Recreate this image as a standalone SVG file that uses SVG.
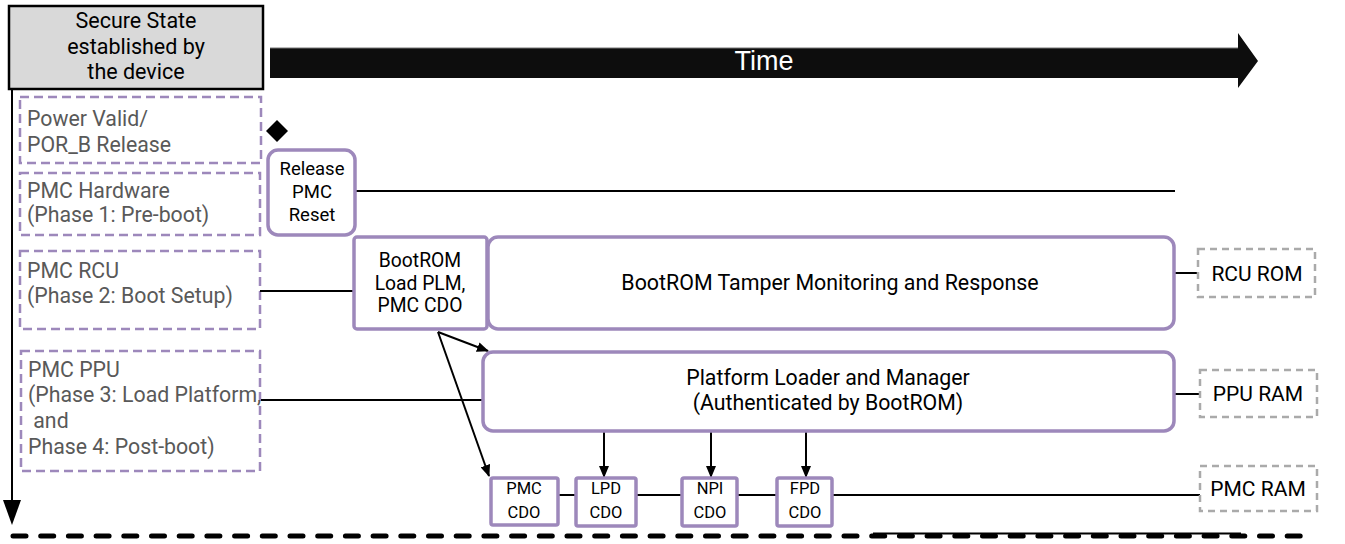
<svg xmlns="http://www.w3.org/2000/svg" width="1345" height="544" viewBox="0 0 1345 544">
<style>
  .lane { fill: #ffffff; stroke: #9d88bb; stroke-width: 2.5; stroke-dasharray: 9 5; }
  .lanet { font-family: Roboto, "Liberation Sans", sans-serif; font-size: 21.3px; fill: #595959; }
  .blk { fill: #ffffff; stroke: #9d88bb; stroke-width: 3.5; }
  .t { font-family: Roboto, "Liberation Sans", sans-serif; fill: #000000; text-anchor: middle; }
  .mem { fill: #ffffff; stroke: #aaaaaa; stroke-width: 2.5; stroke-dasharray: 7 5; }
  .ln { stroke: #000000; stroke-width: 2; fill: none; }
  .ar { stroke: #000000; stroke-width: 2; fill: none; marker-end: url(#ah); }
</style>
<defs>
  <marker id="ah" viewBox="0 0 12 10" refX="11" refY="5" markerWidth="12" markerHeight="10" orient="auto" markerUnits="userSpaceOnUse">
    <path d="M0,0 L12,5 L0,10 z" fill="#000000"/>
  </marker>
</defs>
<rect width="1345" height="544" fill="#ffffff"/>

<g id="secure-state">
  <rect x="9" y="6" width="254" height="83" fill="#d9d9d9" stroke="#000000" stroke-width="2.5"/>
  <text class="t" font-size="21.5" x="136" y="28">Secure State</text>
  <text class="t" font-size="21.5" x="136" y="54">established by</text>
  <text class="t" font-size="21.5" x="136" y="79">the device</text>
</g>

<g id="time-arrow">
  <path d="M270,48 L1238,48 L1238,33 L1258,61 L1238,88 L1238,78 L270,78 z" fill="#0d0d0d"/>
  <line x1="270" y1="48" x2="1238" y2="48" stroke="#777777" stroke-width="1"/>
  <text x="764" y="70" font-family="'Liberation Sans', Arial, sans-serif" font-size="27" fill="#ffffff" text-anchor="middle">Time</text>
</g>

<g id="lane-power">
  <rect class="lane" x="20" y="97" width="241" height="66"/>
  <text class="lanet" x="27" y="126">Power Valid/</text>
  <text class="lanet" x="27" y="152">POR_B Release</text>
</g>
<g id="lane-pmc-hw">
  <rect class="lane" x="20" y="173" width="240" height="62"/>
  <text class="lanet" x="27" y="198">PMC Hardware</text>
  <text class="lanet" x="27" y="222">(Phase 1: Pre-boot)</text>
</g>
<g id="lane-pmc-rcu">
  <rect class="lane" x="20" y="251" width="240" height="78"/>
  <text class="lanet" x="27" y="278">PMC RCU</text>
  <text class="lanet" x="27" y="303">(Phase 2: Boot Setup)</text>
</g>
<g id="lane-pmc-ppu">
  <rect class="lane" x="21" y="351" width="239" height="120"/>
  <text class="lanet" x="28" y="377">PMC PPU</text>
  <text class="lanet" x="28" y="402">(Phase 3: Load Platform,</text>
  <text class="lanet" x="28" y="428" xml:space="preserve"> and</text>
  <text class="lanet" x="28" y="454">Phase 4: Post-boot)</text>
</g>

<g id="por-diamond">
  <path d="M277,120 L288,131 L277,142 L266,131 z" fill="#000000"/>
</g>

<g id="connectors">
  <line class="ln" x1="12" y1="89" x2="12" y2="505"/>
  <path d="M3,500 L21,500 L12,525 z" fill="#000000"/>
  <line x1="13" y1="536" x2="1310" y2="536" stroke="#000000" stroke-width="5" stroke-dasharray="13 14.7" stroke-linecap="round"/>
  <line x1="873" y1="533.5" x2="1241" y2="533.5" stroke="#000000" stroke-width="2"/>
  <line class="ln" x1="356" y1="191" x2="1175" y2="191"/>
  <line class="ln" x1="260" y1="291" x2="354" y2="291"/>
  <line class="ln" x1="261" y1="400" x2="483" y2="400"/>
  <line class="ln" x1="1174" y1="273" x2="1198" y2="273"/>
  <line class="ln" x1="1174" y1="394" x2="1200" y2="394"/>
  <line class="ln" x1="558" y1="495" x2="576" y2="495"/>
  <line class="ln" x1="636" y1="495" x2="682" y2="495"/>
  <line class="ln" x1="737" y1="495" x2="777" y2="495"/>
  <line class="ln" x1="832" y1="495" x2="1200" y2="495"/>
  <line class="ar" x1="438" y1="332" x2="488" y2="351"/>
  <line class="ar" x1="438" y1="332" x2="489" y2="476"/>
  <line class="ar" x1="604" y1="431" x2="604" y2="477"/>
  <line class="ar" x1="711" y1="431" x2="711" y2="477"/>
  <line class="ar" x1="806" y1="431" x2="806" y2="477"/>
</g>

<g id="release-pmc-reset">
  <rect class="blk" x="268" y="150" width="87" height="85" rx="10"/>
  <text class="t" font-size="18.5" x="312" y="175">Release</text>
  <text class="t" font-size="18.5" x="312" y="198">PMC</text>
  <text class="t" font-size="18.5" x="312" y="221">Reset</text>
</g>

<g id="bootrom-load">
  <rect class="blk" x="354" y="237" width="133" height="92" rx="3"/>
  <text class="t" font-size="19.3" x="420" y="267">BootROM</text>
  <text class="t" font-size="19.3" x="420" y="290">Load PLM,</text>
  <text class="t" font-size="19.3" x="420" y="312">PMC CDO</text>
</g>

<g id="bootrom-tamper">
  <rect class="blk" x="488" y="237" width="686" height="92" rx="10"/>
  <text class="t" font-size="21.4" x="830" y="290">BootROM Tamper Monitoring and Response</text>
</g>

<g id="plm">
  <rect class="blk" x="483" y="352" width="691" height="79" rx="10"/>
  <text class="t" font-size="21.3" x="828" y="385">Platform Loader and Manager</text>
  <text class="t" font-size="21.3" x="828" y="410">(Authenticated by BootROM)</text>
</g>

<g id="pmc-cdo">
  <rect class="blk" x="491" y="478" width="67" height="47" rx="2"/>
  <text class="t" font-size="16.5" x="524" y="494">PMC</text>
  <text class="t" font-size="16.5" x="524" y="518">CDO</text>
</g>
<g id="lpd-cdo">
  <rect class="blk" x="576" y="478" width="60" height="48" rx="2"/>
  <text class="t" font-size="16.5" x="606" y="494">LPD</text>
  <text class="t" font-size="16.5" x="606" y="518">CDO</text>
</g>
<g id="npi-cdo">
  <rect class="blk" x="682" y="478" width="55" height="48" rx="2"/>
  <text class="t" font-size="16.5" x="710" y="494">NPI</text>
  <text class="t" font-size="16.5" x="710" y="518">CDO</text>
</g>
<g id="fpd-cdo">
  <rect class="blk" x="777" y="478" width="55" height="48" rx="2"/>
  <text class="t" font-size="16.5" x="805" y="494">FPD</text>
  <text class="t" font-size="16.5" x="805" y="518">CDO</text>
</g>

<g id="rcu-rom">
  <rect class="mem" x="1198" y="249" width="117" height="48"/>
  <text class="t" font-size="21" x="1257" y="281">RCU ROM</text>
</g>
<g id="ppu-ram">
  <rect class="mem" x="1200" y="370" width="117" height="47"/>
  <text class="t" font-size="21" x="1258" y="401">PPU RAM</text>
</g>
<g id="pmc-ram">
  <rect class="mem" x="1200" y="466" width="117" height="45"/>
  <text class="t" font-size="21" x="1258" y="496">PMC RAM</text>
</g>
</svg>
